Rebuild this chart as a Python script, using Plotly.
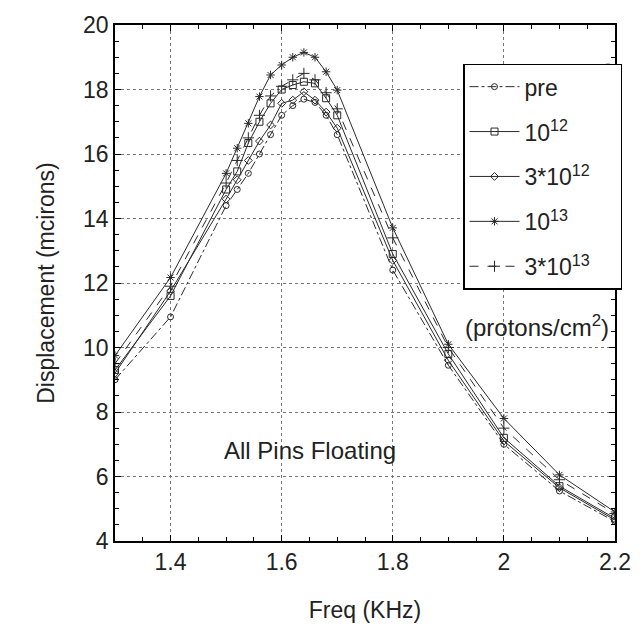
import plotly.graph_objects as go

freq = [1.3, 1.4, 1.5, 1.52, 1.54, 1.56, 1.58, 1.6, 1.62, 1.64, 1.66, 1.68, 1.7, 1.8, 1.9, 2.0, 2.1, 2.2]

pre =      [9.0, 10.95, 14.4, 14.9, 15.4, 16.0, 16.6, 17.2, 17.5, 17.7, 17.6, 17.2, 16.6, 12.4, 9.45, 7.0, 5.55, 4.6]
e12 =      [9.3, 11.6, 14.9, 15.46, 16.34, 17.0, 17.57, 18.0, 18.14, 18.24, 18.19, 17.73, 17.2, 12.9, 9.8, 7.2, 5.7, 4.7]
e12x3 =    [9.2, 11.75, 14.6, 15.2, 15.8, 16.4, 16.9, 17.57, 17.67, 17.93, 17.67, 17.3, 16.8, 12.7, 9.6, 7.1, 5.65, 4.65]
e13 =      [9.75, 12.17, 15.4, 16.18, 16.95, 17.78, 18.45, 18.76, 19.0, 19.15, 19.0, 18.55, 17.98, 13.71, 10.1, 7.8, 6.05, 4.9]
e13x3 =    [9.5, 11.9, 15.1, 15.8, 16.5, 17.2, 17.8, 18.1, 18.3, 18.5, 18.3, 17.9, 17.4, 13.4, 10.0, 7.5, 5.9, 4.85]

names = ["pre", "10<sup>12</sup>", "3*10<sup>12</sup>", "10<sup>13</sup>", "3*10<sup>13</sup>"]
series = [pre, e12, e12x3, e13, e13x3]
symbols = ["circle-open", "square-open", "diamond-open", "asterisk-open", "cross-thin-open"]
dashes = ["dashdot", "solid", "solid", "solid", "dash"]
sizes = [6, 7, 6, 7, 8]

FONT = "Liberation Sans, Arial, sans-serif"
TXT = "#222"
PAD = "\u00a0\u00a0\u00a0\u00a0"
fig = go.Figure()
for i, (n, s) in enumerate(zip(names, series)):
    fig.add_trace(go.Scatter(
        x=freq, y=s, name=n + PAD, mode="lines+markers", legendgroup=str(i),
        line=dict(color="#2a2a2a", width=1, dash=dashes[i]),
        marker=dict(symbol=symbols[i], size=sizes[i], color="#2a2a2a",
                    line=dict(width=1, color="#2a2a2a")),
    ))

axis_common = dict(
    showline=True, linecolor="black", linewidth=1.5, mirror="ticks",
    ticks="inside", ticklen=6, tickcolor="black",
    showgrid=True, gridcolor="#777", griddash="dot", gridwidth=1,
    zeroline=False,
    tickfont=dict(family=FONT, size=23, color=TXT),
    title_font=dict(family=FONT, size=23, color=TXT),
)

fig.update_xaxes(
    range=[1.3, 2.2], tickvals=[1.4, 1.6, 1.8, 2.0, 2.2],
    ticktext=["1.4", "1.6", "1.8", "2", "2.2"],
    minor=dict(tick0=1.3, dtick=0.05, ticks="inside", ticklen=4, tickcolor="black", showgrid=False),
    title_text="Freq (KHz)", title_standoff=28, **axis_common)
fig.update_yaxes(
    range=[4, 20], tickvals=list(range(4, 21, 2)),
    minor=dict(tick0=4, dtick=0.5, ticks="inside", ticklen=4, tickcolor="black", showgrid=False),
    title_text="Displacement (mcirons)", title_standoff=22, **axis_common)

fig.add_annotation(x=1.651, y=6.82, text="All Pins Floating", showarrow=False,
                   font=dict(family=FONT, size=24, color=TXT))
fig.add_annotation(x=2.06, y=10.68, text="(protons/cm<sup>2</sup>)", showarrow=False,
                   font=dict(family=FONT, size=24, color=TXT))

# legend shadow (thick right & bottom edges)
fig.add_shape(type="line", xref="paper", yref="paper", x0=0.986, x1=0.986, y0=0.925, y1=0.49,
              line=dict(color="black", width=3.5))
fig.add_shape(type="line", xref="paper", yref="paper", x0=0.696, x1=0.986, y0=0.49, y1=0.49,
              line=dict(color="black", width=3.5))

fig.update_layout(
    width=643, height=634,
    margin=dict(l=115, r=22, t=23, b=93),
    plot_bgcolor="white", paper_bgcolor="white",
    legend=dict(x=0.696, y=0.925, xanchor="left", yanchor="top",
                bgcolor="white", bordercolor="black", borderwidth=1.5,
                font=dict(family=FONT, size=23, color=TXT),
                tracegroupgap=12, itemwidth=50),
    showlegend=True,
)

fig.write_html("out.html")
